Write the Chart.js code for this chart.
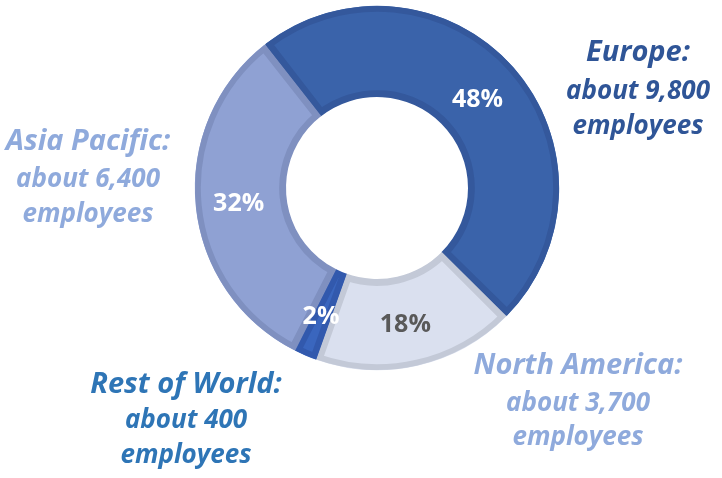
<!DOCTYPE html>
<html>
<head>
<meta charset="utf-8">
<script src="https://cdn.jsdelivr.net/npm/chart.js@4/dist/chart.umd.min.js"></script>
<style>
  html, body { margin: 0; padding: 0; background: #fff; }
  #wrap { width: 722px; height: 478px; position: relative; }
</style>
</head>
<body>
<div id="wrap"><canvas id="myChart"></canvas></div>
<script>
var regions = ["Europe", "North America", "Rest of World", "Asia Pacific"];
var shares = [48, 18, 2, 32];
var employees = ["about 9,800", "about 3,700", "about 400", "about 6,400"];

var fillColors = ["#3A63AA", "#DAE0EF", "#3A66BE", "#8FA1D3"];
var edgeColors = ["#34589C", "#C3C9D7", "#3259AD", "#7F90C0"];
var pctColors = ["#ffffff", "#595959", "#ffffff", "#ffffff"];
var nameColors = ["#2F5597", "#8FAADC", "#2E75B6", "#8FAADC"];

// where each outer label sits: centre x and the three baselines
var labelSpots = [
  { x: 638, y: [61, 99, 134] },
  { x: 578, y: [374, 411, 445] },
  { x: 186, y: [393, 428, 463] },
  { x: 88, y: [150, 187, 222] }
];

var FONT = "'Open Sans', Lato, sans-serif";

var labelPlugin = {
  id: "regionLabels",
  afterDatasetsDraw: function(chart) {
    var c = chart.ctx;
    var arcs = chart.getDatasetMeta(0).data;
    c.save();
    c.textAlign = "center";
    c.textBaseline = "middle";
    c.font = "bold 25px " + FONT;
    arcs.forEach(function(arc, i) {
      var p = arc.tooltipPosition();
      c.fillStyle = pctColors[i];
      c.fillText(shares[i] + "%", p.x - 2, p.y + 3);
    });
    c.textBaseline = "alphabetic";
    regions.forEach(function(name, i) {
      var s = labelSpots[i];
      c.fillStyle = nameColors[i];
      c.font = "italic bold 29px " + FONT;
      c.fillText(name + ":", s.x, s.y[0]);
      c.font = "italic bold 26px " + FONT;
      c.fillText(employees[i], s.x, s.y[1]);
      c.fillText("employees", s.x, s.y[2]);
    });
    c.restore();
  }
};

var ctx = document.getElementById("myChart");
new Chart(ctx, {
  type: "doughnut",
  data: {
    labels: regions,
    datasets: [{
      data: shares,
      backgroundColor: fillColors,
      borderColor: edgeColors,
      borderWidth: 6,
      borderAlign: "inner"
    }]
  },
  options: {
    responsive: true,
    maintainAspectRatio: false,
    animation: false,
    rotation: -38,
    cutout: "50%",
    radius: 182,
    spacing: 1,
    layout: { padding: { left: 32, bottom: 102 } },
    plugins: {
      legend: { display: false },
      tooltip: { enabled: false }
    }
  },
  plugins: [labelPlugin]
});
</script>
</body>
</html>
